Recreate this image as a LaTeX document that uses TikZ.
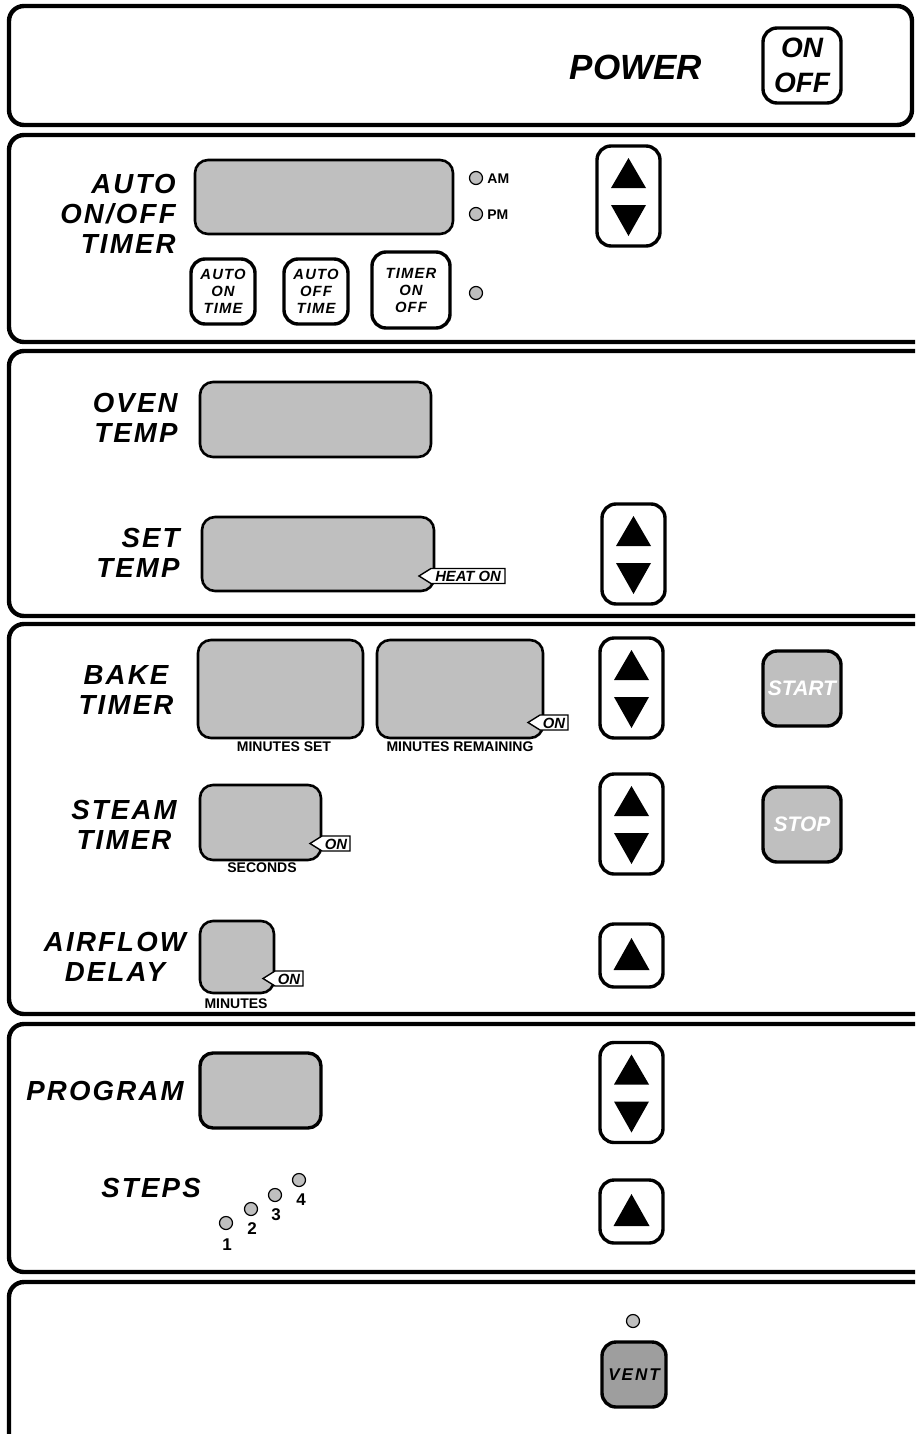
\documentclass[tikz,border=0pt]{standalone}
\usepackage{fontspec}
\setmainfont{Liberation Sans}
\newfontfamily\spaced[LetterSpace=8]{Liberation Sans}
\newfontfamily\wide[LetterSpace=12]{Liberation Sans}
\definecolor{dispgray}{gray}{0.75}
\definecolor{ventgray}{gray}{0.62}
\tikzset{
  sz/.style 2 args={minimum width=#1*0.5pt, minimum height=#2*0.5pt},
  panel/.style={line width=2.2pt, rounded corners=7.5pt},
  disp/.style={draw, fill=dispgray, line width=1.3pt, rounded corners=6.5pt, inner sep=0},
  btn/.style={draw, fill=white, line width=1.7pt, rounded corners=7pt, inner sep=0, align=center},
  led/.style={circle, draw, fill=dispgray, line width=0.6pt, minimum size=6.5pt, inner sep=0},
  lab/.style={font=\spaced\bfseries\itshape\fontsize{13.8}{15}\selectfont, inner sep=0},
  btext/.style={font=\spaced\bfseries\itshape\fontsize{7.4}{8.5}\selectfont},
  small/.style={font=\bfseries\fontsize{7}{8}\selectfont, inner sep=0},
  pics/updown/.style={code={
    \node[btn, sz={63}{100}] (-b) at (0,0) {};
    \fill (0,-38) -- (17.5,-8) -- (-17.5,-8) -- cycle;
    \fill (0,40) -- (17.5,9) -- (-17.5,9) -- cycle;
  }},
  pics/uponly/.style={code={
    \node[btn, sz={63}{63}] (-b) at (0,0) {};
    \fill (0,-17.5) -- (18,14.5) -- (-18,14.5) -- cycle;
  }},
  pics/tag/.style 2 args={code={
    \draw[fill=white, line width=0.7pt] (0,0) -- (12,-7.5) -- (12+#1,-7.5) -- (12+#1,7.5) -- (12,7.5) -- cycle;
    \node[font=\bfseries\itshape\fontsize{7.4}{8}\selectfont, inner sep=0] (-t) at (12+#1/2,0.5) {#2};
  }}
}
\begin{document}
\begin{tikzpicture}[x=0.5pt,y=-0.5pt]
\useasboundingbox (0,0) rectangle (915,1434);
\clip (0,0) rectangle (915,1434);
% panels
\draw[panel] (9,6) rectangle (912,125);
\draw[panel] (9,135) rectangle (945,342);
\draw[panel] (9,351) rectangle (945,616);
\draw[panel] (9,624) rectangle (945,1014);
\draw[panel] (9,1024) rectangle (945,1272);
\draw[panel] (9,1282) rectangle (945,1470);

% power
\node[font=\bfseries\itshape\fontsize{17.5}{20}\selectfont, inner sep=0] (power) at (636,67) {POWER};
\node[btn, sz={78}{75}, font=\bfseries\itshape\fontsize{14}{17.5}\selectfont] (onoff) at (802,65.5) {ON\\OFF};

% auto on/off timer
\node[lab, align=right, anchor=east] (autolab) at (176,214) {AUTO\\ON/OFF\\TIMER};
\node[disp, sz={258}{74}] (autodisp) at (324,197) {};
\node[led] (am) at (476,178) {};
\node[small, anchor=west] (amt) at (487,178.5) {AM};
\node[led] (pm) at (476,214) {};
\node[small, anchor=west] (pmt) at (487,214.5) {PM};
\node[btn, btext, sz={64}{65}] (aon) at (223,291.5) {AUTO\\ON\\TIME};
\node[btn, btext, sz={64}{65}] (aoff) at (316,291.5) {AUTO\\OFF\\TIME};
\node[btn, btext, sz={78}{76}] (ton) at (411,290) {TIMER\\ON\\OFF};
\node[led] (tled) at (476,293) {};
\pic (ud1) at (628.5,196) {updown};

% oven temp / set temp
\node[lab, align=right, anchor=east] (ovenlab) at (178,418) {OVEN\\TEMP};
\node[disp, sz={231}{75}] (ovendisp) at (315.5,419.5) {};
\node[lab, align=right, anchor=east] (setlab) at (180,553) {SET\\TEMP};
\node[disp, sz={232}{74}] (setdisp) at (318,554) {};
\pic (heat) at (419,576) {tag={74}{HEAT ON}};
\pic (ud2) at (633.5,554) {updown};

% bake timer
\node[lab, align=center] (bakelab) at (126,690) {BAKE\\TIMER};
\node[disp, sz={165}{98}] (bset) at (280.5,689) {};
\node[disp, sz={166}{98}] (brem) at (460,689) {};
\node[small] (bsett) at (284,746.5) {MINUTES SET};
\node[small] (bremt) at (460,746.5) {MINUTES REMAINING};
\pic (bon) at (528,722.5) {tag={28}{ON}};
\pic (ud3) at (631.5,688) {updown};
\node[btn, fill=dispgray, sz={78}{75}, text=white, font=\bfseries\itshape\fontsize{10.5}{12}\selectfont] (start) at (802,688.5) {START};

% steam timer
\node[lab, align=center] (steamlab) at (124,825) {STEAM\\TIMER};
\node[disp, sz={121}{75}] (sdisp) at (260.5,822.5) {};
\node[small] (sect) at (262,868) {SECONDS};
\pic (son) at (310,843.5) {tag={28}{ON}};
\pic (ud4) at (631.5,824) {updown};
\node[btn, fill=dispgray, sz={78}{75}, text=white, font=\bfseries\itshape\fontsize{10.5}{12}\selectfont] (stop) at (802,824.5) {STOP};

% airflow delay
\node[lab, align=center] (airlab) at (115,957) {AIRFLOW\\DELAY};
\node[disp, sz={74}{72}] (adisp) at (237,957) {};
\node[small] (amin) at (236,1004) {MINUTES};
\pic (aon2) at (263,978.5) {tag={28}{ON}};
\pic (up1) at (631.5,955.5) {uponly};

% program / steps
\node[lab] (proglab) at (105,1091) {PROGRAM};
\node[disp, line width=1.7pt, sz={121}{75}] (pdisp) at (260.5,1090.5) {};
\pic (ud5) at (631.5,1092.5) {updown};
\node[lab] (steplab) at (151,1188) {STEPS};
\node[led] (s1) at (226,1223) {};
\node[led] (s2) at (251,1209) {};
\node[led] (s3) at (275,1195) {};
\node[led] (s4) at (299,1180) {};
\node[font=\bfseries\fontsize{8.5}{9}\selectfont, inner sep=0] (n1) at (227,1245) {1};
\node[font=\bfseries\fontsize{8.5}{9}\selectfont, inner sep=0] (n2) at (252,1229) {2};
\node[font=\bfseries\fontsize{8.5}{9}\selectfont, inner sep=0] (n3) at (276,1215) {3};
\node[font=\bfseries\fontsize{8.5}{9}\selectfont, inner sep=0] (n4) at (301,1200) {4};
\pic (up2) at (631.5,1211.5) {uponly};

% vent
\node[led] (vled) at (633,1321) {};
\node[btn, fill=ventgray, sz={64}{65}, font=\wide\bfseries\itshape\fontsize{8.5}{10}\selectfont] (vent) at (634,1374.5) {VENT};
\end{tikzpicture}
\end{document}
